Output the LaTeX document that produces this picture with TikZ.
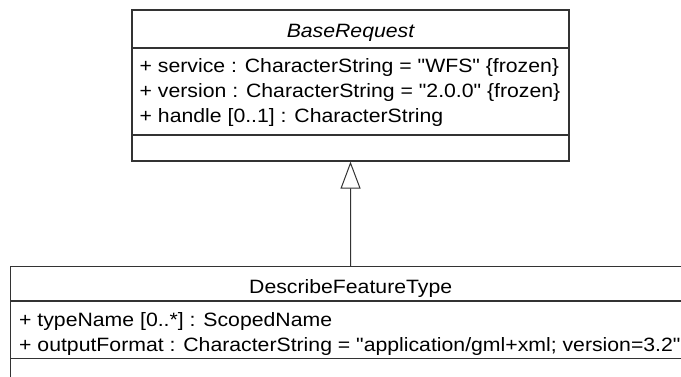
\documentclass[tikz,border=0pt]{standalone}
\usepackage{fontspec}
\setmainfont{Liberation Sans}[FakeStretch=1.1, Ligatures=TeXOff]
\usepackage{tikz}
\usetikzlibrary{arrows.meta}
\definecolor{edge}{HTML}{333333}
\definecolor{ink}{HTML}{000000}
\tikzset{
  cls/.style={draw=edge, line width=1.2pt, inner sep=0pt},
  part/.style={draw=edge, line width=1.2pt},
  ttl/.style={anchor=base, inner sep=0pt, text=ink, font=\fontsize{19.3}{25}\selectfont},
  attr/.style={anchor=base west, inner sep=0pt, text=ink, font=\fontsize{19.3}{25}\selectfont},
  gen/.style={draw=edge, line width=1pt, -{Triangle[open, length=27pt, width=20pt]}},
}

\begin{document}
\begin{tikzpicture}[x=1pt, y=-1pt]
  \useasboundingbox (0,0) rectangle (681,376);
  % BaseRequest
  \node[cls, minimum width=437pt, minimum height=151pt] (base) at (350.5,85.5) {};
  \draw[part] (base.west |- 0,48) -- (base.east |- 0,48);
  \draw[part] (base.west |- 0,135) -- (base.east |- 0,135);
  \node[ttl] (baseName) at (350.5,37.6) {\itshape BaseRequest};
  \node[attr] (svc) at (139.5,72.7) {+ service : CharacterString = "WFS" \{frozen\}};
  \node[attr] (ver) at (139.5,97.7) {+ version : CharacterString = "2.0.0" \{frozen\}};
  \node[attr] (hdl) at (139.5,122.7) {+ handle [0..1] : CharacterString};
  % DescribeFeatureType
  \node[cls, minimum width=680pt, minimum height=117.3pt] (dft) at (350.7,325.3) {};
  \draw[part] (dft.west |- 0,301) -- (dft.east |- 0,301);
  \draw[part] (dft.west |- 0,358.3) -- (dft.east |- 0,358.3);
  \node[ttl] (dftName) at (350.7,293) {DescribeFeatureType};
  \node[attr] (tn) at (19,326) {+ typeName [0..*] : ScopedName};
  \node[attr] (fmt) at (19,351) {+ outputFormat : CharacterString = "application/gml+xml; version=3.2"};
  % generalization
  \draw[gen] (dft.north) -- (base.south);
\end{tikzpicture}
\end{document}
